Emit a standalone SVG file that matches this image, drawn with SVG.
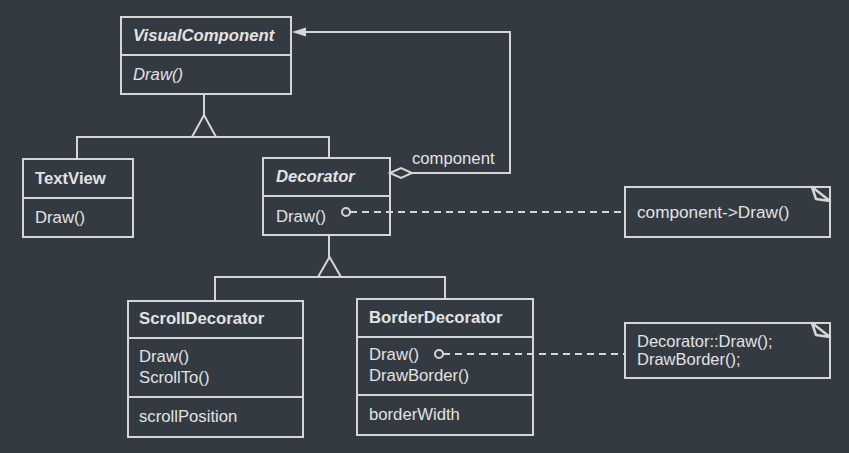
<svg xmlns="http://www.w3.org/2000/svg" width="849" height="453" viewBox="0 0 849 453">
<style>
.bx{fill:none;stroke:#d6d6d6;stroke-width:2}
.ln{fill:none;stroke:#d6d6d6;stroke-width:2}
.dl{fill:none;stroke:#d6d6d6;stroke-width:2;stroke-dasharray:7 5}
.t{font-family:"Liberation Sans",Arial,sans-serif;font-size:16.7px;fill:#e2e2e2}
.n{font-size:17.2px}
.m{font-size:16.5px}
.b{font-weight:bold}
.i{font-style:italic}
</style>
<rect width="849" height="453" fill="#343a42"/>
<g id="connectors">
<path class="ln" d="M204,94 V115 M192,137 L204,115 L216,137 M77,159 V137 H329 V158"/>
<path class="ln" d="M329,235 V257 M318,277 L329.5,257 L341,277 M215,301 V277 H445 V299"/>
<polygon points="390,173 401,168 412,173 401,178" fill="#343a42" stroke="#d6d6d6" stroke-width="2"/>
<path class="ln" d="M412,173 H510 V32 H305"/>
<polygon points="292,32 306,27.5 306,36.5" fill="#d6d6d6"/>
<text class="t" x="412" y="164">component</text>
<circle cx="346" cy="212" r="4" fill="none" stroke="#d6d6d6" stroke-width="2"/>
<path class="dl" d="M350,212 H625"/>
<circle cx="439" cy="354" r="4" fill="none" stroke="#d6d6d6" stroke-width="2"/>
<path class="dl" d="M443,354 H625"/>
</g>
<g id="VisualComponent">
<rect class="bx" x="121" y="17" width="170" height="77"/>
<path class="ln" d="M121,55 H291"/>
<text class="t b i" x="133" y="41">VisualComponent</text>
<text class="t i" x="133" y="80">Draw()</text>
</g>
<g id="TextView">
<rect class="bx" x="23" y="159" width="110" height="78"/>
<path class="ln" d="M23,198 H133"/>
<text class="t b" x="35" y="184">TextView</text>
<text class="t" x="35" y="223">Draw()</text>
</g>
<g id="Decorator">
<rect class="bx" x="263" y="158" width="127" height="77"/>
<path class="ln" d="M263,196 H390"/>
<text class="t b i" x="276" y="182">Decorator</text>
<text class="t" x="276" y="222">Draw()</text>
</g>
<g id="ScrollDecorator">
<rect class="bx" x="128" y="301" width="175" height="136"/>
<path class="ln" d="M128,338 H303 M128,397 H303"/>
<text class="t b" x="139" y="324">ScrollDecorator</text>
<text class="t" x="139" y="362">Draw()</text>
<text class="t" x="139" y="383">ScrollTo()</text>
<text class="t" x="139" y="422">scrollPosition</text>
</g>
<g id="BorderDecorator">
<rect class="bx" x="357" y="299" width="176" height="136"/>
<path class="ln" d="M357,337 H533 M357,395 H533"/>
<text class="t b" x="369" y="323">BorderDecorator</text>
<text class="t" x="369" y="360">Draw()</text>
<text class="t" x="369" y="381">DrawBorder()</text>
<text class="t" x="369" y="420">borderWidth</text>
</g>
<g id="note1">
<rect class="bx" x="625" y="187" width="205" height="50"/>
<polygon points="812,187 816,199 830,201" fill="none" stroke="#d6d6d6" stroke-width="2.5" stroke-linejoin="round"/>
<text class="t n" x="637" y="218">component-&gt;Draw()</text>
</g>
<g id="note2">
<rect class="bx" x="625" y="323" width="205" height="55"/>
<polygon points="812,323 816,335 830,337" fill="none" stroke="#d6d6d6" stroke-width="2.5" stroke-linejoin="round"/>
<text class="t m" x="637" y="347">Decorator::Draw();</text>
<text class="t m" x="637" y="365">DrawBorder();</text>
</g>
</svg>
